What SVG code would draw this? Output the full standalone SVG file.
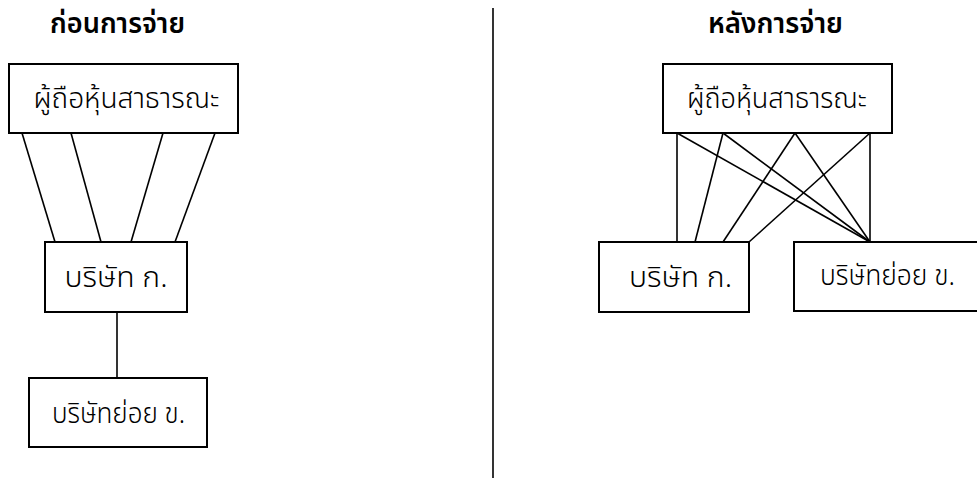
<svg xmlns="http://www.w3.org/2000/svg" width="977" height="478" viewBox="0 0 977 478">
<style>
.box{fill:#fff;stroke:#000;stroke-width:2}
.lbl{font-family:"Noto Sans Thai","Noto Sans","DejaVu Sans",sans-serif;font-size:29px;font-weight:300;fill:#000;text-anchor:middle}
.ttl{font-family:"Noto Sans Thai","Noto Sans","DejaVu Sans",sans-serif;font-size:28px;font-weight:600;fill:#000;text-anchor:middle}
.con line{stroke:#000;stroke-width:1.6}
</style>
<rect width="977" height="478" fill="#fff"/>
<text class="ttl" x="117.5" y="33" textLength="135" lengthAdjust="spacingAndGlyphs">ก่อนการจ่าย</text>
<text class="ttl" x="775.5" y="33" textLength="135" lengthAdjust="spacingAndGlyphs">หลังการจ่าย</text>
<g class="con">
<line x1="493" y1="8" x2="493" y2="478" stroke-width="2"/>
<line x1="22" y1="133" x2="55" y2="242"/>
<line x1="71" y1="133" x2="101" y2="242"/>
<line x1="163" y1="133" x2="131" y2="242"/>
<line x1="215" y1="133" x2="175" y2="242"/>
<line x1="117" y1="312" x2="117" y2="378"/>
<line x1="677" y1="133" x2="677" y2="242"/>
<line x1="677" y1="133" x2="870" y2="242"/>
<line x1="723" y1="133" x2="695" y2="242"/>
<line x1="723" y1="133" x2="870" y2="242"/>
<line x1="795" y1="133" x2="723" y2="242"/>
<line x1="795" y1="133" x2="870" y2="242"/>
<line x1="870" y1="133" x2="749" y2="242"/>
<line x1="870" y1="133" x2="870" y2="242"/>
</g>
<g id="public-before"><rect class="box" x="9" y="64" width="229" height="69"/><text class="lbl" x="126.5" y="108" textLength="186" lengthAdjust="spacingAndGlyphs">ผู้ถือหุ้นสาธารณะ</text></g>
<g id="co-a-before"><rect class="box" x="45" y="242" width="142" height="70"/><text class="lbl" x="116" y="287" textLength="103" lengthAdjust="spacingAndGlyphs">บริษัท ก.</text></g>
<g id="sub-b-before"><rect class="box" x="29" y="378" width="178" height="69"/><text class="lbl" x="118.5" y="423" textLength="133" lengthAdjust="spacingAndGlyphs">บริษัทย่อย ข.</text></g>
<g id="public-after"><rect class="box" x="663" y="64" width="229" height="69"/><text class="lbl" x="777" y="108" textLength="180" lengthAdjust="spacingAndGlyphs">ผู้ถือหุ้นสาธารณะ</text></g>
<g id="co-a-after"><rect class="box" x="599" y="242" width="150" height="70"/><text class="lbl" x="680.5" y="287" textLength="103" lengthAdjust="spacingAndGlyphs">บริษัท ก.</text></g>
<g id="sub-b-after"><rect class="box" x="794" y="242" width="200" height="69"/><text class="lbl" x="887.5" y="285" textLength="135" lengthAdjust="spacingAndGlyphs">บริษัทย่อย ข.</text></g>
</svg>
